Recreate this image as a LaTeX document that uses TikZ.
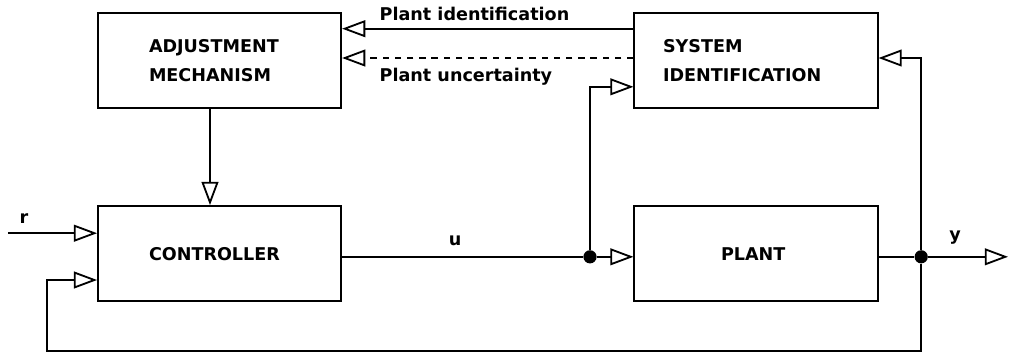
\documentclass[tikz,border=0pt]{standalone}
\usepackage{fontspec}
\setmainfont{DejaVu Sans}
\usepackage{tikz}
\usetikzlibrary{arrows.meta, positioning, calc}
\newcommand{\blkfont}{\fontsize{12.5}{20.5}\selectfont\bfseries}

\begin{document}
\begin{tikzpicture}[
    block/.style={draw, line width=1.3pt, minimum width=6.08cm,
                  minimum height=2.38cm, align=left, font=\blkfont},
    arrow/.style={-{Triangle[open, length=5.8mm, width=4.2mm]}, line width=1.3pt},
    dot/.style={circle, fill, inner sep=0pt, minimum size=3.3mm},
    sig/.style={font=\blkfont, inner sep=1pt}
]
\useasboundingbox (0,0) rectangle (25.25,-8.85);

% Blocks
\node[block, text width=3.53cm] (adj) at (5.49, -1.51) {ADJUSTMENT\\MECHANISM};
\node[block, text width=4.65cm] (sysid) at (18.9, -1.51) {SYSTEM\\IDENTIFICATION};
\node[block, text width=3.53cm] (ctrl) at (5.49, -6.34) {CONTROLLER};
\node[block, text width=1.75cm] (plant) at (18.9, -6.34) {PLANT};

% Junctions and free ends
\coordinate (uout) at ([yshift=-0.08cm]ctrl.east);
\node[dot] (j1) at (14.75, 0 |- uout) {};
\node[dot] (j2) at (23.03, 0 |- uout) {};
\coordinate (rin) at (0.2, -5.83);
\coordinate (yout) at (25.2, 0 |- uout);
\coordinate (fb) at (1.18, -8.78);

% Identification to adjustment
\draw[arrow] ([yshift=-0.42cm]sysid.north west) -- ([yshift=-0.42cm]adj.north east);
\draw[arrow, dash pattern=on 4.5pt off 4.2pt] ([yshift=0.06cm]sysid.west) -- ([yshift=0.06cm]adj.east);
\node[sig, anchor=west] (pid) at (9.45, -0.35) {Plant identification};
\node[sig, anchor=west] (punc) at (9.45, -1.93) {Plant uncertainty};

% Adjustment to controller
\draw[arrow] ([xshift=-0.24cm]adj.south) -- ([xshift=-0.24cm]ctrl.north);

% Reference input
\draw[arrow] (rin) -- (rin -| ctrl.west);
\node[sig] (r) at (0.6, -5.47) {r};

% Control signal
\draw[line width=1.3pt] (uout) -- (j1);
\draw[arrow] (j1) -- (j1 -| plant.west);
\draw[arrow] (j1) |- ([yshift=-0.66cm]sysid.west);
\node[sig] (u) at (11.38, -6.03) {u};

% Output and feedback
\draw[line width=1.3pt] (j1 -| plant.east) -- (j2);
\draw[arrow] (j2) -- (yout);
\node[sig] (y) at (23.88, -5.93) {y};
\draw[arrow] (j2) |- ([yshift=0.06cm]sysid.east);
\draw[arrow] (j2) |- (fb) |- ([yshift=-0.66cm]ctrl.west);

\end{tikzpicture}
\end{document}
